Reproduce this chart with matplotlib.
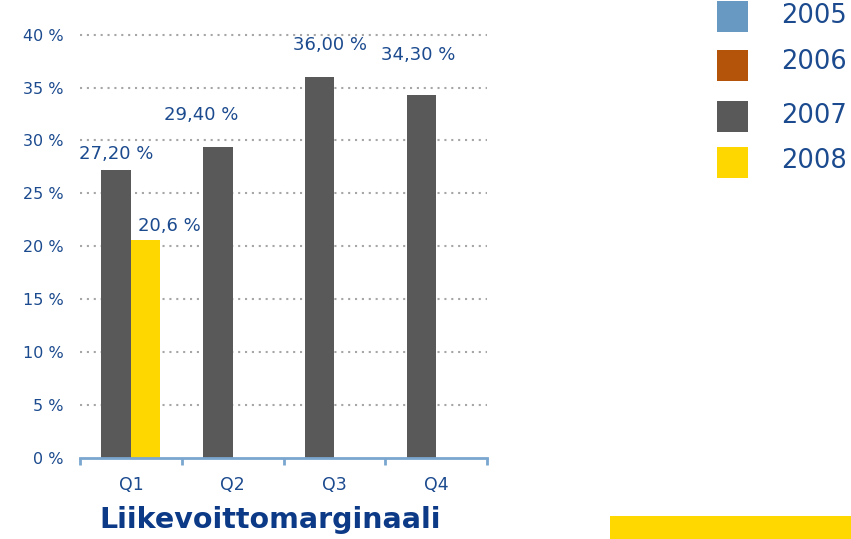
import numpy as np
import matplotlib
matplotlib.use("Agg")
import matplotlib.pyplot as plt
from matplotlib.patches import Rectangle

# ---- data ----
quarters = ["Q1", "Q2", "Q3", "Q4"]
legend_years = ["2005", "2006", "2007", "2008"]
legend_colors = ["#6899c2", "#b3540a", "#595959", "#ffd700"]
values_2007 = [27.2, 29.4, 36.0, 34.3]
values_2008 = [20.6]
labels_2007 = ["27,20 %", "29,40 %", "36,00 %", "34,30 %"]
labels_2008 = ["20,6 %"]
yticks = [0, 5, 10, 15, 20, 25, 30, 35, 40]
ytick_labels = ["0 %", "5 %", "10 %", "15 %", "20 %", "25 %", "30 %", "35 %", "40 %"]
title = "Liikevoittomarginaali"

# ---- styles ----
W, H = 851, 539
TXT = "#1b4a8e"
TITLE_C = "#0c3a87"
SPINE_C = "#7aa6cf"
GRID_C = "#a6a6a6"

plt.rcParams["font.family"] = ["DejaVu Sans"]
fig = plt.figure(figsize=(W / 100, H / 100), dpi=100)
fig.patch.set_facecolor("white")

ax = fig.add_axes([80 / W, 81.5 / H, 407 / W, 422.8 / H])
ax.set_facecolor("white")

x = np.arange(len(quarters))
bw = 0.29
b07 = ax.bar(x - bw / 2, values_2007, bw, color=legend_colors[2], zorder=3)
b08 = ax.bar(x[:len(values_2008)] + bw / 2, values_2008, bw, color=legend_colors[3], zorder=3)

ax.set_xlim(-0.5, len(quarters) - 0.5)
ax.set_ylim(0, 40)

# y axis
ax.set_yticks(yticks)
ax.set_yticklabels(ytick_labels)
ax.tick_params(axis="y", length=0, pad=12, labelsize=11.5, labelcolor=TXT)

# grid (dotted), skip zero line
for yv in yticks[1:]:
    ax.axhline(yv, color=GRID_C, linestyle=(0, (1, 2.3)), linewidth=1.5,
               zorder=1, clip_on=False)

# x axis
ax.set_xticks(x)
ax.set_xticklabels(quarters)
ax.set_xticks(np.arange(len(quarters) + 1) - 0.5, minor=True)
ax.tick_params(axis="x", which="major", length=0, pad=13, labelsize=12.5, labelcolor=TXT)
ax.tick_params(axis="x", which="minor", length=5, width=2, color=SPINE_C, direction="out")

for s in ["left", "right", "top"]:
    ax.spines[s].set_visible(False)
ax.spines["bottom"].set_color(SPINE_C)
ax.spines["bottom"].set_linewidth(2)
ax.spines["bottom"].set_zorder(4)

# data labels (manual offsets like the original)
offs_2007 = [(0, 11), (-17, 27), (10, 27), (-3, 35)]
for rect, lab, (dx, dy) in zip(b07, labels_2007, offs_2007):
    ax.annotate(lab, xy=(rect.get_x() + rect.get_width() / 2, rect.get_height()),
                xytext=(dx, dy), textcoords="offset pixels",
                ha="center", va="baseline", fontsize=13, color=TXT)
offs_2008 = [(24, 8.5)]
for rect, lab, (dx, dy) in zip(b08, labels_2008, offs_2008):
    ax.annotate(lab, xy=(rect.get_x() + rect.get_width() / 2, rect.get_height()),
                xytext=(dx, dy), textcoords="offset pixels",
                ha="center", va="baseline", fontsize=13, color=TXT)

# title
fig.text(270 / W, (H - 528) / H, title, ha="center", va="baseline",
         fontsize=20.5, fontweight="bold", color=TITLE_C)

# legend (manual, top right)
sq_tops = [1, 50, 101, 147]
txt_base = [22.7, 69.3, 122.7, 168]
for yr, col, t, b in zip(legend_years, legend_colors, sq_tops, txt_base):
    fig.add_artist(Rectangle((717 / W, (H - t - 31) / H), 31 / W, 31 / H,
                             transform=fig.transFigure, facecolor=col, edgecolor="none"))
    fig.text(781 / W, (H - b) / H, yr, ha="left", va="baseline",
             fontsize=18.5, color=TXT)

# decorative yellow strip bottom right
fig.add_artist(Rectangle((610 / W, 0), (W - 610) / W, 23 / H,
                         transform=fig.transFigure, facecolor="#ffd800", edgecolor="none"))

fig.savefig("out.png", dpi=100)
